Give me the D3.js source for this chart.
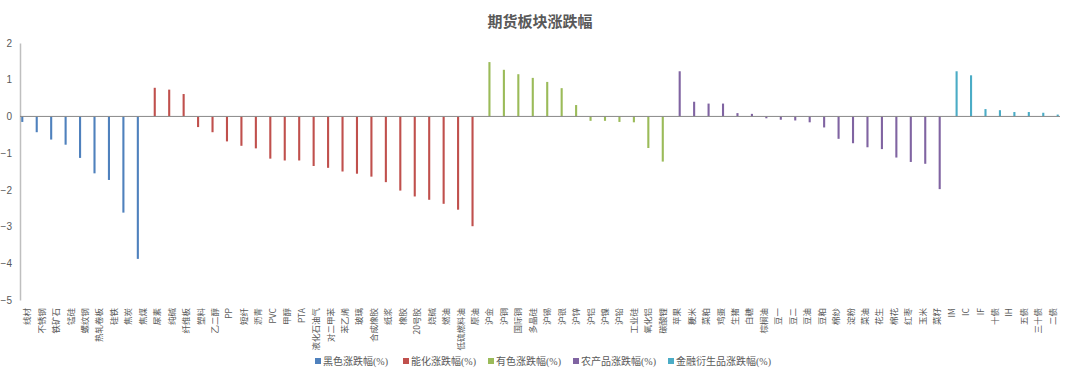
<!DOCTYPE html>
<html>
<head>
<meta charset="utf-8">
<script src="https://cdn.jsdelivr.net/npm/d3@7"></script>
<style>
  body { margin: 0; background: #fff; }
  svg { display: block; font-family: "Noto Sans CJK SC", "Liberation Sans", sans-serif; }
</style>
</head>
<body>
<div id="chart"></div>
<script>
// sector names (legend) and colours
var seriesNames = ['黑色涨跌幅(%)', '能化涨跌幅(%)', '有色涨跌幅(%)', '农产品涨跌幅(%)', '金融衍生品涨跌幅(%)']
var seriesColors = ['#4f81bd', '#c0504d', '#9bbb59', '#8064a2', '#4bacc6']

// categories of each sector
var blackCats = ['线材', '不锈钢', '铁矿石', '锰硅', '螺纹钢', '热轧卷板', '硅铁', '焦炭', '焦煤']
var blackVals = [-0.15, -0.43, -0.63, -0.77, -1.13, -1.55, -1.73, -2.62, -3.88]

var chemCats = ['尿素', '纯碱', '纤维板', '塑料', '乙二醇', 'PP', '短纤', '沥青', 'PVC', '甲醇', 'PTA',
  '液化石油气', '对二甲苯', '苯乙烯', '玻璃', '合成橡胶', '纸浆', '橡胶', '20号胶', '烧碱', '燃油', '低硫燃料油', '原油']
var chemVals = [0.78, 0.73, 0.61, -0.29, -0.43, -0.68, -0.8, -0.87, -1.15, -1.2, -1.2,
  -1.35, -1.4, -1.5, -1.56, -1.64, -1.79, -2.02, -2.18, -2.27, -2.38, -2.54, -2.99]

var metalCats = ['沪金', '沪铜', '国际铜', '多晶硅', '沪锡', '沪银', '沪锌', '沪铝', '沪镍', '沪铅', '工业硅', '氧化铝', '碳酸锂']
var metalVals = [1.48, 1.27, 1.15, 1.05, 0.94, 0.77, 0.31, -0.12, -0.12, -0.15, -0.16, -0.86, -1.23]

var agriCats = ['苹果', '粳米', '菜粕', '鸡蛋', '生猪', '白糖', '棕榈油', '豆一', '豆二', '豆油', '豆粕',
  '棉纱', '淀粉', '菜油', '花生', '棉花', '红枣', '玉米', '菜籽']
var agriVals = [1.23, 0.4, 0.35, 0.35, 0.09, 0.07, -0.05, -0.09, -0.11, -0.16, -0.3,
  -0.61, -0.73, -0.84, -0.89, -1.12, -1.24, -1.29, -1.98]

var finCats = ['IM', 'IC', 'IF', '十债', 'IH', '五债', '三十债', '二债']
var finVals = [1.23, 1.12, 0.2, 0.17, 0.12, 0.12, 0.1, 0.05]

var yTicks = [-5, -4, -3, -2, -1, 0, 1, 2]

// flatten into one row per category
var groups = [[blackCats, blackVals], [chemCats, chemVals], [metalCats, metalVals], [agriCats, agriVals], [finCats, finVals]]
var data = []
groups.forEach(function(g, si) {
  g[0].forEach(function(c, i) {
    data.push({cat: c, series: seriesNames[si], value: g[1][i]})
  })
})

var W = 1080, H = 377
var svg = d3.select("#chart").append("svg")
  .attr("width", W).attr("height", H)

var plotLeft = 20, plotRight = 1060, plotTop = 43, plotBottom = 300

var x0 = d3.scaleBand()
  .domain(data.map(function(d) { return d.cat }))
  .range([plotLeft, plotRight])

var x1 = d3.scaleBand()
  .domain(seriesNames)
  .range([0, x0.bandwidth()])
  .paddingOuter(0.5)
  .paddingInner(0.15)

var y = d3.scaleLinear().domain([-5, 2]).range([plotBottom, plotTop])

var color = d3.scaleOrdinal().domain(seriesNames).range(seriesColors)

// title
svg.append("text")
  .attr("x", W / 2).attr("y", 27)
  .attr("text-anchor", "middle")
  .style("font-size", "15px").style("font-weight", "bold")
  .style("fill", "#595959")
  .text("期货板块涨跌幅")

// y axis
var yAxis = svg.append("g")
  .attr("transform", "translate(" + plotLeft + ",0)")
  .call(d3.axisLeft(y).tickValues(yTicks).tickSize(0).tickPadding(8).tickFormat(d3.format("d")))
yAxis.select(".domain").attr("stroke", "#bfbfbf").attr("stroke-width", 1.5)
yAxis.selectAll("text").style("font-size", "10px").style("fill", "#595959")
  .style("font-family", "'Liberation Sans', sans-serif")

// bars
svg.selectAll(".bar")
  .data(data).enter()
  .append("rect")
  .attr("class", "bar")
  .attr("x", function(d) { return x0(d.cat) + x1(d.series) })
  .attr("width", x1.bandwidth())
  .attr("y", function(d) { return y(Math.max(0, d.value)) })
  .attr("height", function(d) { return Math.abs(y(d.value) - y(0)) })
  .attr("fill", function(d) { return color(d.series) })

// zero line
svg.append("line")
  .attr("x1", plotLeft).attr("x2", plotRight)
  .attr("y1", y(0)).attr("y2", y(0))
  .attr("stroke", "#898989").attr("stroke-width", 1)

// category labels, rotated
svg.selectAll(".xlab")
  .data(data).enter()
  .append("text")
  .attr("class", "xlab")
  .attr("transform", function(d) {
    return "translate(" + (x0(d.cat) + x0.bandwidth() / 2) + "," + (plotBottom + 8) + ") rotate(-90)"
  })
  .attr("text-anchor", "end")
  .attr("dy", "0.35em")
  .style("font-size", "8.5px")
  .style("fill", "#595959")
  .text(function(d) { return d.cat })

// legend
var legendX = [315, 403, 488, 573, 668]
var legend = svg.append("g").attr("transform", "translate(0,361)")
seriesNames.forEach(function(s, i) {
  var g = legend.append("g").attr("transform", "translate(" + legendX[i] + ",0)")
  g.append("rect").attr("x", 0).attr("y", -3).attr("width", 6).attr("height", 6).attr("fill", seriesColors[i])
  g.append("text").attr("x", 8).attr("dy", "0.35em")
    .style("font-size", "10px").style("fill", "#595959")
    .style("font-family", "'Liberation Serif', 'Noto Sans CJK SC', serif")
    .text(s)
})
</script>
</body>
</html>
